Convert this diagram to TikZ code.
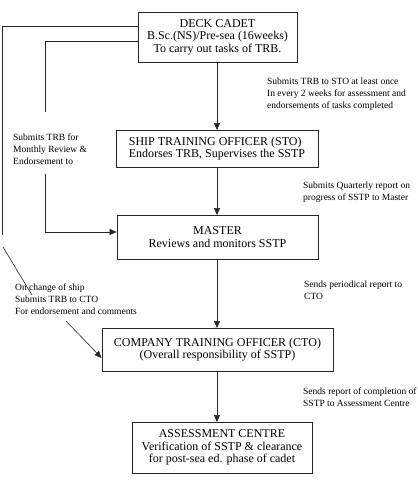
\documentclass[tikz,border=0pt]{standalone}
\usepackage{fontspec}
\setmainfont{Liberation Serif}
\usetikzlibrary{arrows.meta,calc}
\begin{document}
\begin{tikzpicture}[x=1pt,y=-1pt,
  box/.style={draw=black!85,line width=0.8pt,inner sep=0pt,align=center,
    font=\fontsize{12}{12.4}\selectfont},
  lbl/.style={anchor=north west,inner sep=0pt,align=left,
    font=\fontsize{9.5}{12}\selectfont},
  conn/.style={draw=black!85,line width=0.6pt},
  arr/.style={conn,-{Triangle[length=7pt,width=6pt]}}]
\useasboundingbox (0,0) rectangle (418,488);
\clip (0,0) rectangle (418,488);

\node[box,minimum width=159,minimum height=50] (deck) at (217.5,37)
  {DECK CADET\\B.Sc.(NS)/Pre-sea (16weeks)\\To carry out tasks of TRB.};
\node[box,minimum width=202,minimum height=37,align=left] (sto) at (217,148.5)
  {SHIP TRAINING OFFICER (STO)\\Endorses TRB, Supervises the SSTP};
\node[box,minimum width=201,minimum height=44] (master) at (217.5,237)
  {MASTER\\Reviews and monitors SSTP};
\node[box,minimum width=231,minimum height=43] (cto) at (217.5,349.5)
  {COMPANY TRAINING OFFICER (CTO)\\(Overall responsibility of SSTP)};
\node[box,minimum width=180,minimum height=51] (ac) at (222,447.5)
  {ASSESSMENT CENTRE\\Verification of SSTP \& clearance\\for post-sea ed. phase of cadet};

\draw[arr] (217,62) -- (217,130);
\draw[arr] (217,167) -- (217,215);
\draw[arr] (217,259) -- (217,328);
\draw[arr] (217,371) -- (217,422);

\coordinate (o1) at (2,26);
\coordinate (o2) at (2,235);
\coordinate (d1a) at (3,247);
\coordinate (d1b) at (32,295);
\coordinate (d2a) at (66,321);
\draw[conn] (deck.west |- o1) -- (o1) -- (o2);
\draw[conn] (d1a) -- (d1b);
\draw[arr] (d2a) -- (cto.west |- 0,358);

\coordinate (m1) at (45,41);
\coordinate (m2) at (45,112);
\coordinate (m3) at (45,174);
\coordinate (m4) at (45,232);
\draw[conn] (deck.west |- m1) -- (m1) -- (m2);
\draw[arr] (m3) -- (m4) -- (master.west |- m4);

\node[lbl] (t1) at (267,78) {Submits TRB to STO at least once\\In every 2 weeks for assessment and\\endorsements of tasks completed};
\node[lbl] (t2) at (303,182) {Submits Quarterly report on\\progress of SSTP to Master};
\node[lbl] (t3) at (304,281) {Sends periodical report to\\CTO};
\node[lbl] (t4) at (303,388) {Sends report of completion of\\SSTP to Assessment Centre};
\node[lbl] (t5) at (13,134) {Submits TRB for\\Monthly Review \&\\Endorsement to};
\node[lbl] (t6) at (15,284) {On change of ship\\Submits TRB to CTO\\For endorsement and comments};
\end{tikzpicture}
\end{document}
